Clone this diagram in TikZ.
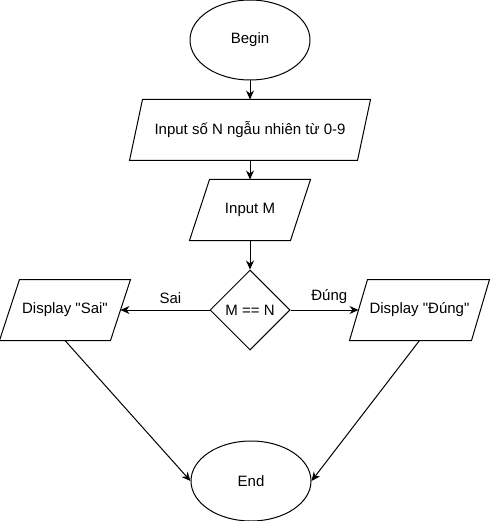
\documentclass[tikz,border=0pt]{standalone}
\usepackage{fontspec}
\setmainfont{Liberation Sans}[Ligatures=TeXOff]
\usetikzlibrary{shapes.geometric,arrows.meta}
\tikzset{
	term/.style={draw, ellipse, minimum width=120pt, minimum height=80pt, inner sep=0pt},
	iobox/.style={rectangle, minimum height=60pt, inner sep=0pt},
	cond/.style={draw, diamond, minimum width=80pt, minimum height=80pt, inner sep=0pt},
	flow/.style={-{Stealth[length=9pt,width=8pt]}}
}
% parallelogram round a named node: #1 node, #2 half skew
\newcommand{\slantbox}[2]{\draw ([xshift=#2]#1.north west) -- ([xshift=#2]#1.north east) -- ([xshift=-#2]#1.south east) -- ([xshift=-#2]#1.south west) -- cycle;}
\begin{document}
\begin{tikzpicture}[x=1pt, y=-1pt, line width=1pt, font=\fontsize{15}{18}\selectfont]
	\useasboundingbox (0,0) rectangle (491,521);
	\node[term] (begin) at (250,40) {Begin};
	\node[iobox, minimum width=227pt] (inN) at (250,130) {Input số N ngẫu nhiên từ 0-9};
	\node[iobox, minimum width=100pt] (inM) at (250,210) {Input M};
	\node[cond] (test) at (250,310) {M == N};
	\node[iobox, minimum width=110pt] (sai) at (65,310) {Display "Sai"};
	\node[iobox, minimum width=121pt] (dung) at (419.5,310) {Display "Đúng"};
	\node[term] (end) at (251,481) {End};
	\slantbox{inN}{6.5pt}
	\slantbox{inM}{10pt}
	\slantbox{sai}{10pt}
	\slantbox{dung}{9pt}
	\draw[flow] (begin) -- (inN);
	\draw[flow] (inN) -- (inM);
	\draw[flow] (inM) -- (test);
	\draw[flow] (test.west) -- node[pos=0.44, above=3pt]{Sai} (sai.east);
	\draw[flow] (test.east) -- node[pos=0.57, above=3pt]{Đúng} (dung.west);
	\draw[flow] (sai.south) -- (end.west);
	\draw[flow] (dung.south) -- (end.east);
\end{tikzpicture}
\end{document}
